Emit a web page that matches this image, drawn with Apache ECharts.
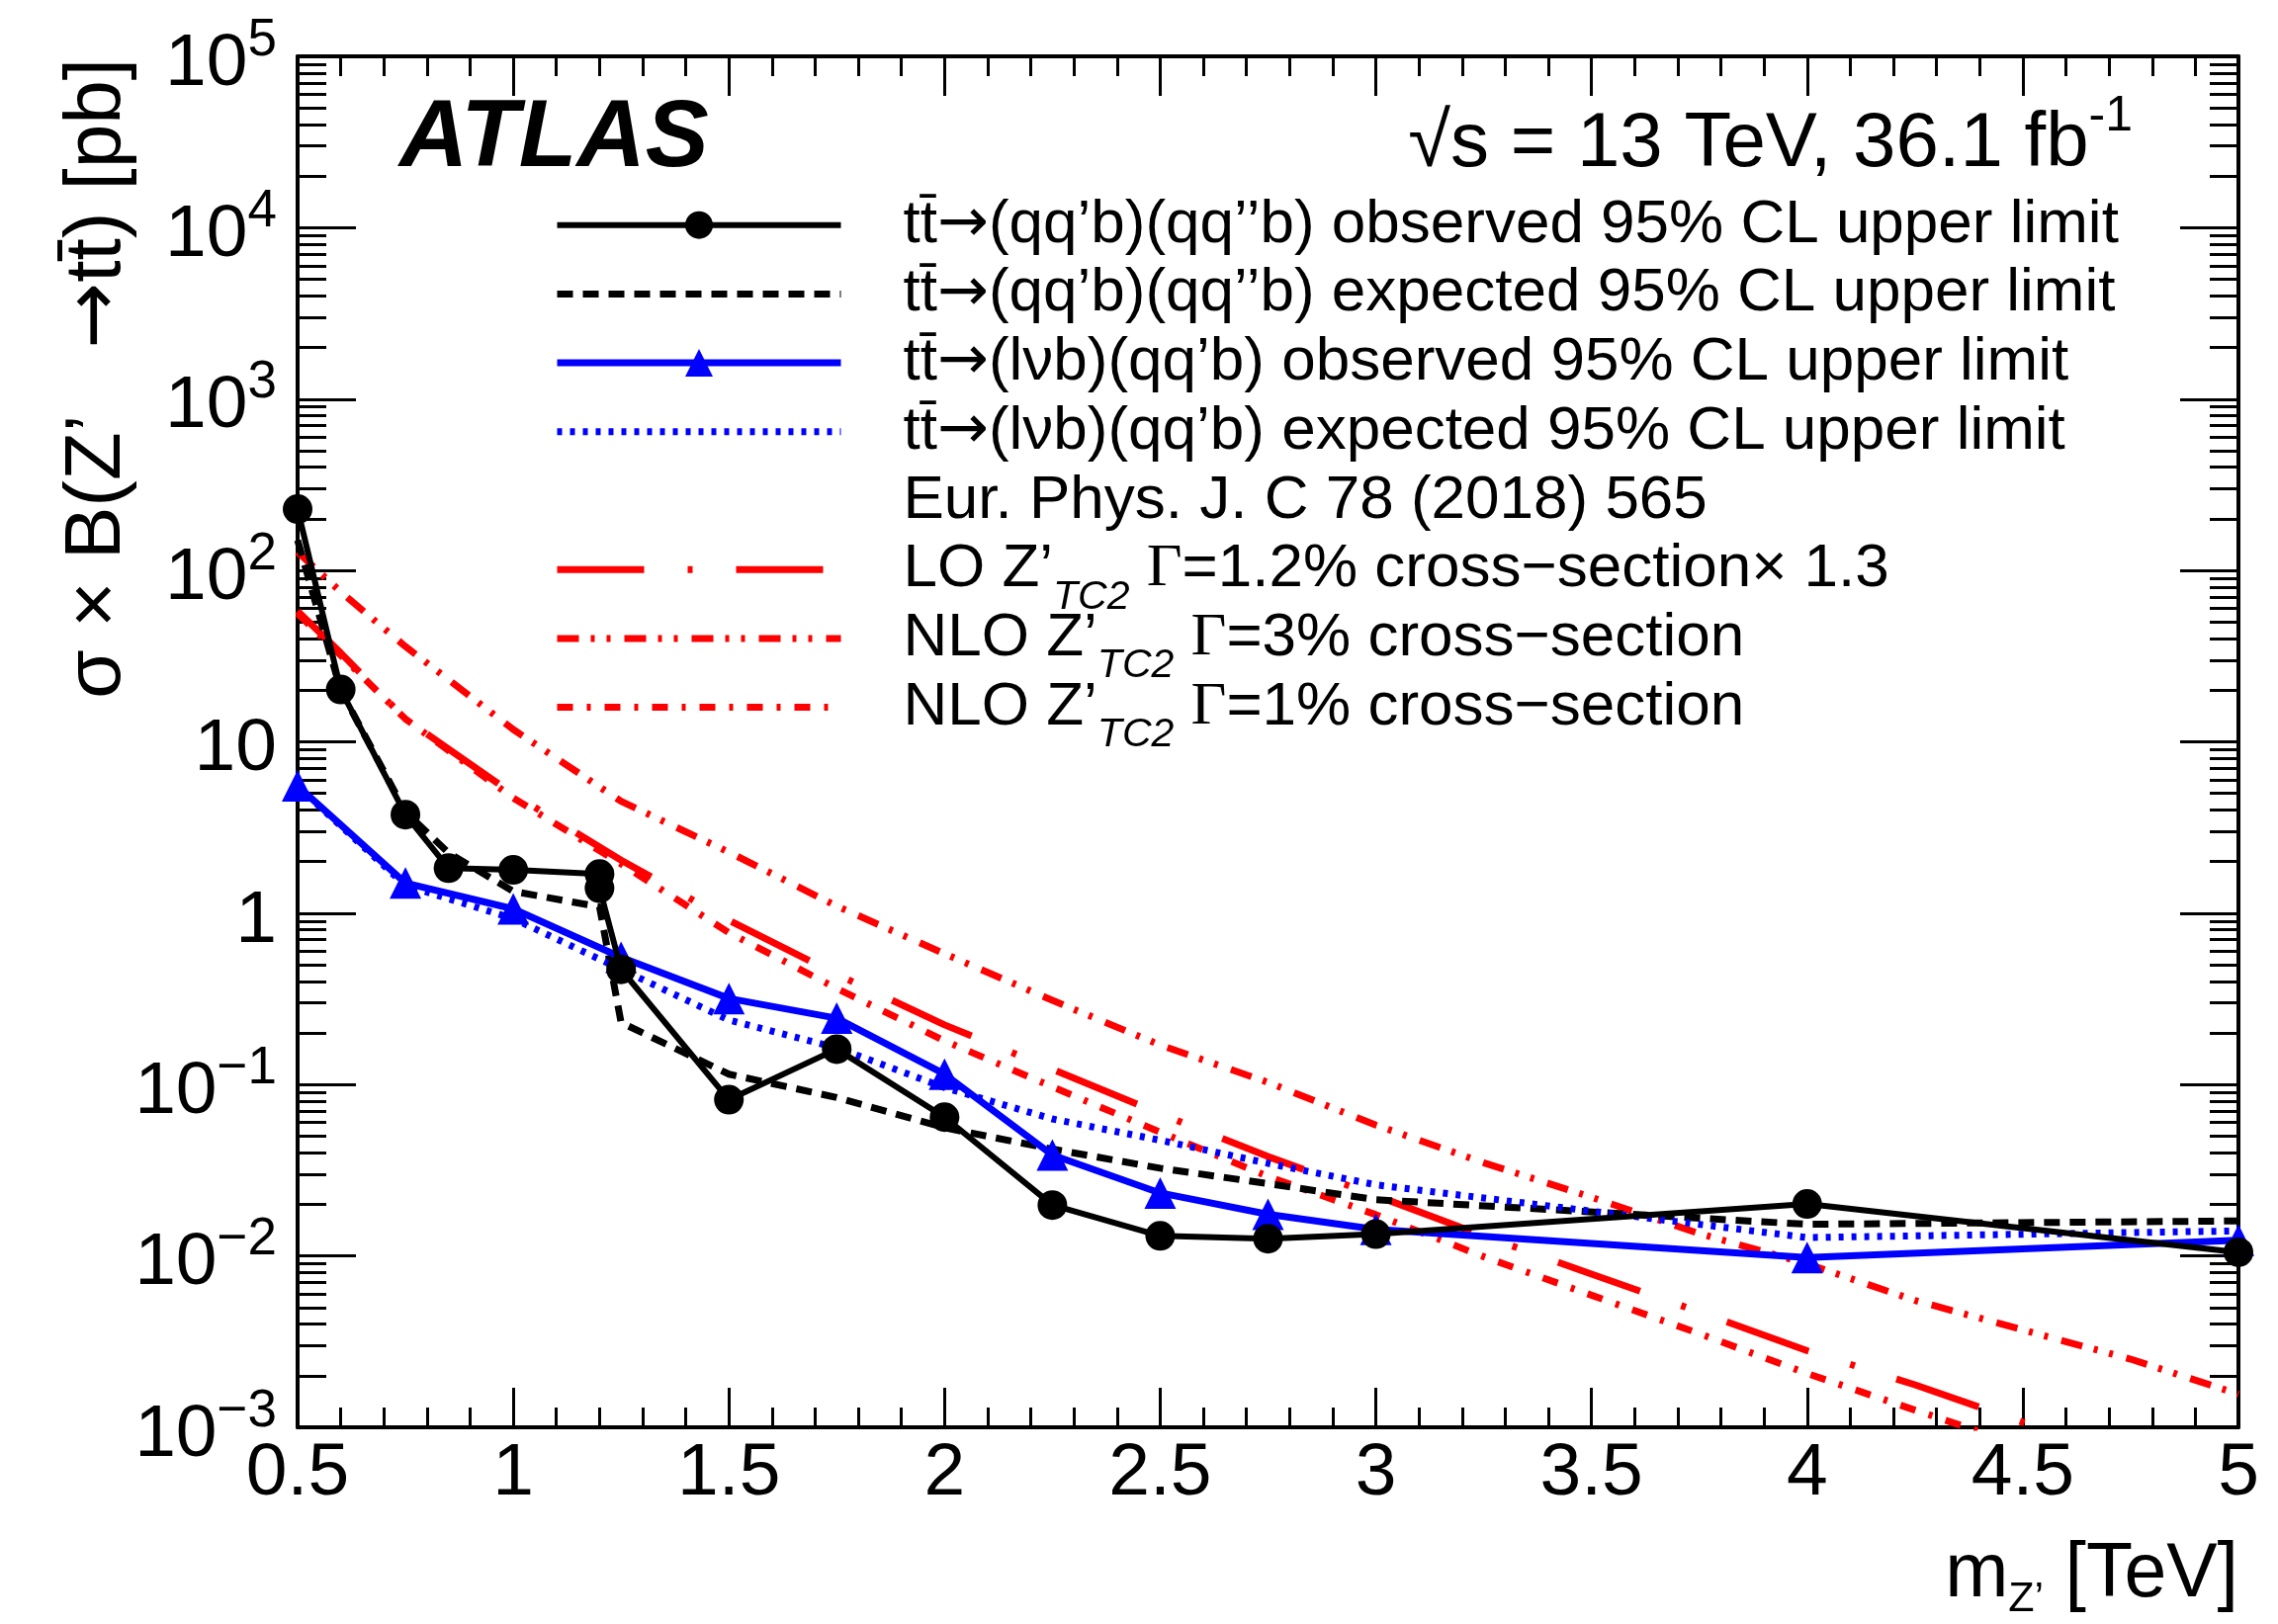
<!DOCTYPE html>
<html><head><meta charset="utf-8">
<script src="https://cdn.jsdelivr.net/npm/echarts@6/dist/echarts.min.js"></script>
<style>html,body{margin:0;padding:0;background:#fff}#c{width:2304px;height:1643px}</style>
</head><body><div id="c"></div>
<script>
// ---------------- data ----------------
const massQQObs = [0.5, 0.6, 0.75, 0.85, 1.0, 1.2, 1.2, 1.25, 1.5, 1.75, 2.0, 2.25, 2.5, 2.75, 3.0, 4.0, 5.0];
const obsQQ     = [228, 20.2, 3.76, 1.83, 1.79, 1.69, 1.40, 0.47, 0.0816, 0.161, 0.0645, 0.0198, 0.0131, 0.0126, 0.0134, 0.0201, 0.0105];
const massQQExp = [0.5, 0.6, 0.75, 0.85, 1.0, 1.2, 1.25, 1.5, 1.75, 2.0, 2.25, 2.5, 2.75, 3.0, 4.0, 5.0];
const expQQ     = [150, 20, 3.9, 2.25, 1.34, 1.09, 0.23, 0.115, 0.084, 0.056, 0.042, 0.0325, 0.0264, 0.0213, 0.0153, 0.016];
const massLvb   = [0.5, 0.75, 1.0, 1.25, 1.5, 1.75, 2.0, 2.25, 2.5, 2.75, 3.0, 4.0, 5.0];
const obsLvb    = [5.53, 1.50, 1.06, 0.553, 0.318, 0.244, 0.115, 0.0388, 0.0233, 0.0175, 0.0143, 0.0098, 0.01235];
const expLvb    = [5.5, 1.45, 0.93, 0.47, 0.238, 0.164, 0.096, 0.063, 0.0473, 0.0347, 0.026, 0.0128, 0.014];
const massTh    = [0.5, 0.6, 0.75, 1.0, 1.25, 1.5, 1.75, 2.0, 2.25, 2.5, 2.75, 3.0, 3.25, 3.5, 3.75, 4.0, 4.25, 4.5, 4.75, 5.0];
const loTC2x13  = [58, 33, 13.6, 4.95, 2.04, 0.91, 0.44, 0.223, 0.123, 0.0675, 0.038, 0.0225, 0.0131, 0.00783, 0.00471, 0.0028, 0.00177, 0.00107, 0.00068];
const nloTC2w3  = [128, 75, 36, 11.8, 4.5, 2.27, 1.1, 0.58, 0.31, 0.17, 0.103, 0.058, 0.035, 0.022, 0.0135, 0.009, 0.0055, 0.0037, 0.0025, 0.00156];
const nloTC2w1  = [56, 32, 13.6, 4.7, 1.94, 0.77, 0.364, 0.18, 0.097, 0.0527, 0.0291, 0.0174, 0.0099, 0.0059, 0.00352, 0.00206, 0.00126, 0.00078];

const xTickLabels = [0.5, 1, 1.5, 2, 2.5, 3, 3.5, 4, 4.5, 5];
const yDecades    = [1e-3, 1e-2, 1e-1, 1, 10, 100, 1e3, 1e4, 1e5];
const yMinorMult  = [2, 3, 4, 5, 6, 7, 8, 9];

const seriesNames = [
  'tt̄→(qq’b)(qq’’b) observed 95% CL upper limit',
  'tt̄→(qq’b)(qq’’b) expected 95% CL upper limit',
  'tt̄→(lνb)(qq’b) observed 95% CL upper limit',
  'tt̄→(lνb)(qq’b) expected 95% CL upper limit',
  'Eur. Phys. J. C 78 (2018) 565',
  'LO Z’TC2 Γ=1.2% cross−section× 1.3',
  'NLO Z’TC2 Γ=3% cross−section',
  'NLO Z’TC2 Γ=1% cross−section'
];
const legendRichText = {};
legendRichText[seriesNames[0]] = '{t|tt̄}{a|→}{t|(qq’b)(qq’’b) observed 95% CL upper limit}';
legendRichText[seriesNames[1]] = '{t|tt̄}{a|→}{t|(qq’b)(qq’’b) expected 95% CL upper limit}';
legendRichText[seriesNames[2]] = '{t|tt̄}{a|→}{t|(lνb)(qq’b) observed 95% CL upper limit}';
legendRichText[seriesNames[3]] = '{t|tt̄}{a|→}{t|(lνb)(qq’b) expected 95% CL upper limit}';
legendRichText[seriesNames[4]] = '{t|' + seriesNames[4] + '}';
legendRichText[seriesNames[5]] = '{t|LO Z’}{sub|TC2}{t| }{g|Γ}{t|=1.2% cross−section× 1.3}';
legendRichText[seriesNames[6]] = '{t|NLO Z’}{sub|TC2}{t| }{g|Γ}{t|=3% cross−section}';
legendRichText[seriesNames[7]] = '{t|NLO Z’}{sub|TC2}{t| }{g|Γ}{t|=1% cross−section}';

// ---------------- helpers ----------------
function pairs(xs, ys) { return ys.map((y, i) => [xs[i], y]); }
const yMinor = [];
yDecades.slice(0, -1).forEach(d => yMinorMult.forEach(m => yMinor.push(d * m)));
function yLabel(v) {
  const e = Math.round(Math.log10(v));
  if (e === 0) return '{b|1}';
  if (e === 1) return '{b|10}';
  return '{b|10}{s|' + (e < 0 ? '−' + (-e) : e) + '}';
}
const FONT = 'Liberation Sans';
const AX_LINE = {show: true, lineStyle: {color: '#000', width: 4}};
const ROW = 69.7;       // legend row pitch
const LINE_H = 97;      // legend text line box (keeps subscript inside the box)

function xAxisDef(pos, showLabels) {
  return {
    type: 'value', position: pos, min: 0.5, max: 5, interval: 0.5,
    axisLine: AX_LINE, splitLine: {show: false},
    axisTick: {show: true, inside: true, length: 40, lineStyle: {color: '#000', width: 3}},
    minorTick: {show: true, splitNumber: 5, length: 20, lineStyle: {color: '#000', width: 3}},
    axisLabel: {show: showLabels, color: '#000', fontSize: 75, fontFamily: FONT, margin: 10,
      showMinLabel: true, showMaxLabel: true, formatter: v => String(v)}
  };
}
function yAxisDef(pos, ticks, len, line, labels) {
  return {
    type: 'log', logBase: 10, position: pos, min: 1e-3, max: 1e5,
    axisLine: line ? AX_LINE : {show: false}, splitLine: {show: false}, minorTick: {show: false},
    axisTick: {show: true, inside: true, length: len, customValues: ticks, lineStyle: {color: '#000', width: 3}},
    axisLabel: labels ? {
      show: true, customValues: yDecades, formatter: yLabel, margin: 21, color: '#000',
      rich: {
        b: {fontSize: 75, fontFamily: FONT, color: '#000', lineHeight: 90, padding: [16, 0, 0, 0]},
        s: {fontSize: 53, fontFamily: FONT, color: '#000', lineHeight: 90, padding: [0, 0, 32, 0]}
      }
    } : {show: false}
  };
}

const chart = echarts.init(document.getElementById('c'), null, {renderer: 'canvas'});
const option = {
  animation: false,
  backgroundColor: '#fff',
  textStyle: {fontFamily: FONT, color: '#000'},
  grid: {left: 301, right: 40, top: 57, bottom: 199, containLabel: false, outerBoundsMode: 'none'},
  xAxis: [xAxisDef('bottom', true), xAxisDef('top', false)],
  yAxis: [
    yAxisDef('left', yDecades, 59, true, true),
    yAxisDef('left', yMinor, 29, false, false),
    yAxisDef('right', yDecades, 59, true, false),
    yAxisDef('right', yMinor, 29, false, false)
  ],
  legend: {
    orient: 'vertical', left: 560, top: 227.7 - LINE_H / 2, padding: 0,
    itemWidth: 287, itemHeight: 35, itemGap: ROW - LINE_H, selectedMode: false,
    lineStyle: {width: 'inherit'},
    formatter: name => legendRichText[name],
    textStyle: {
      color: '#000', fontSize: 62, fontFamily: FONT, lineHeight: LINE_H, padding: [0, 0, 0, 58],
      rich: {
        t: {fontSize: 62, fontFamily: FONT, color: '#000'},
        a: {fontSize: 62, fontFamily: 'DejaVu Sans', color: '#000'},
        g: {fontSize: 62, fontFamily: 'Liberation Serif', color: '#000'},
        sub: {fontSize: 41, fontFamily: FONT, fontStyle: 'italic', color: '#000', verticalAlign: 'bottom', height: 41}
      }
    },
    data: [
      {name: seriesNames[0]},
      {name: seriesNames[1], itemStyle: {opacity: 0}},
      {name: seriesNames[2]},
      {name: seriesNames[3], itemStyle: {opacity: 0}},
      {name: seriesNames[4], itemStyle: {opacity: 0}, lineStyle: {opacity: 0}},
      {name: seriesNames[5], itemStyle: {opacity: 0}},
      {name: seriesNames[6], itemStyle: {opacity: 0}},
      {name: seriesNames[7], itemStyle: {opacity: 0}}
    ]
  },
  series: [
    {name: seriesNames[0], type: 'line', data: pairs(massQQObs, obsQQ), symbol: 'circle', symbolSize: 30,
     showAllSymbol: true, lineStyle: {color: '#000', width: 6}, itemStyle: {color: '#000'}, z: 10, silent: true},
    {name: seriesNames[1], type: 'line', data: pairs(massQQExp, expQQ), symbol: 'none',
     lineStyle: {color: '#000', width: 7, type: [16, 10]}, itemStyle: {color: '#000'}, z: 6, silent: true},
    {name: seriesNames[2], type: 'line', data: pairs(massLvb, obsLvb), symbol: 'triangle', symbolSize: 32,
     showAllSymbol: true, lineStyle: {color: '#0000ff', width: 7}, itemStyle: {color: '#0000ff'}, z: 9, silent: true},
    {name: seriesNames[3], type: 'line', data: pairs(massLvb, expLvb), symbol: 'none',
     lineStyle: {color: '#0000ff', width: 7, type: [5, 8]}, itemStyle: {color: '#0000ff'}, z: 7, silent: true},
    {name: seriesNames[4], type: 'line', data: [], symbol: 'none',
     lineStyle: {color: '#fff', width: 0, opacity: 0}, itemStyle: {color: '#fff', opacity: 0}, silent: true},
    {name: seriesNames[5], type: 'line', data: pairs(massTh, loTC2x13), symbol: 'none',
     lineStyle: {color: '#ff0000', width: 7, type: [88, 44, 5, 44]}, itemStyle: {color: '#ff0000'}, z: 4, silent: true},
    {name: seriesNames[6], type: 'line', data: pairs(massTh, nloTC2w3), symbol: 'none',
     lineStyle: {color: '#ff0000', width: 7, type: [22, 12, 4, 12, 4, 14]}, itemStyle: {color: '#ff0000'}, z: 4, silent: true},
    {name: seriesNames[7], type: 'line', data: pairs(massTh, nloTC2w1), symbol: 'none',
     lineStyle: {color: '#ff0000', width: 7, type: [16, 14, 4, 14]}, itemStyle: {color: '#ff0000'}, z: 4, silent: true}
  ],
  graphic: [
    {type: 'text', x: 404, y: 142, silent: true,
     style: {text: 'ATLAS', fontSize: 96, fontWeight: 'bold', fontStyle: 'italic', fontFamily: FONT, fill: '#000', verticalAlign: 'middle'}},
    {type: 'text', x: 2157, y: 146, silent: true,
     style: {text: '{m|√s = 13 TeV, 36.1 fb}{s|-1}', align: 'right', verticalAlign: 'middle', fill: '#000',
       rich: {m: {fontSize: 78, fontFamily: FONT, fill: '#000', lineHeight: 90},
              s: {fontSize: 50, fontFamily: FONT, fill: '#000', lineHeight: 90, padding: [0, 0, 56, 0]}}}},
    {type: 'text', x: 99, y: 59, rotation: Math.PI / 2, silent: true,
     style: {text: '{m|σ × B(Z’   }{a|→}{m|tt̄) [pb]}', align: 'right', verticalAlign: 'middle', fill: '#000',
       rich: {m: {fontSize: 80, fontFamily: FONT, fill: '#000', lineHeight: 90},
              a: {fontSize: 80, fontFamily: 'DejaVu Sans', fill: '#000', lineHeight: 90}}}},
    {type: 'text', x: 2264, y: 1594, silent: true,
     style: {text: '{m|m}{sub|Z’}{m| [TeV]}', align: 'right', verticalAlign: 'middle', fill: '#000',
       rich: {m: {fontSize: 77, fontFamily: FONT, fill: '#000', lineHeight: 90},
              sub: {fontSize: 43, fontFamily: FONT, fill: '#000', lineHeight: 90, padding: [48, 0, 0, 0]}}}}
  ]
};
chart.setOption(option);
</script>
</body></html>
